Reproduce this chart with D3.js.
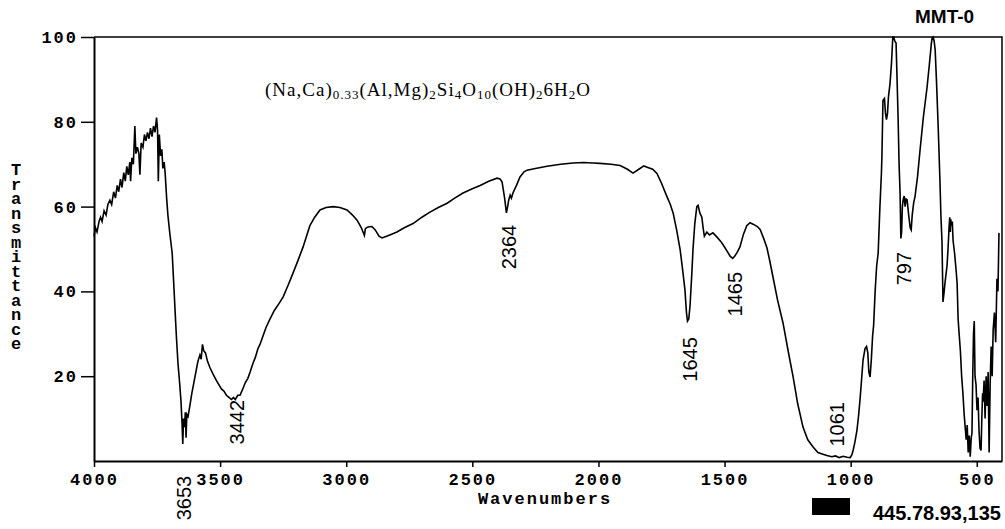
<!DOCTYPE html>
<html>
<head>
<meta charset="utf-8">
<script src="https://cdn.jsdelivr.net/npm/d3@7"></script>
<style>
    body { margin: 0; background: #fff; }
    .tick-label text, .mono { font-family: "Liberation Mono", "DejaVu Sans Mono", monospace; font-weight: bold; font-size: 17px; letter-spacing: 2px; fill: #000; }
    .peak { font-family: "Liberation Sans", Arial, sans-serif; font-size: 20px; fill: #000; }
</style>
</head>
<body>
<svg id="chart"></svg>
<script>
// Spectrum: [wavenumber, %T]
const spectrum = [
    [4000,53.0],[3994,55.0],[3988,54.0],[3980,56.5],[3974,57.5],[3968,56.5],[3960,59.0],[3952,58.0],
    [3945,60.5],[3937,61.5],[3930,60.5],[3922,63.5],[3915,62.0],[3908,65.0],[3902,63.5],[3895,66.5],
    [3889,64.5],[3882,68.0],[3876,66.0],[3870,69.5],[3864,67.5],[3858,70.5],[3855,66.0],[3850,71.5],
    [3844,70.0],[3838,79.0],[3834,72.5],[3828,74.0],[3822,72.5],[3818,67.5],[3813,75.0],[3806,74.0],
    [3800,77.0],[3794,75.5],[3788,77.5],[3782,76.0],[3776,78.5],[3770,76.5],[3764,79.0],[3758,77.5],
    [3752,81.0],[3748,78.0],[3745,66.0],[3741,77.0],[3736,72.0],[3731,73.5],[3727,69.0],[3722,70.5],
    [3718,68.0],[3712,62.0],[3707,58.0],[3700,54.0],[3690,49.0],[3684,42.0],[3679,36.0],[3673,29.0],
    [3667,23.0],[3660,18.0],[3655,14.0],[3651,9.0],[3648,4.0],[3645,10.0],[3641,8.0],[3638,11.5],
    [3635,5.5],[3632,11.0],[3627,10.5],[3620,13.0],[3612,16.0],[3604,18.5],[3596,21.0],[3588,23.5],
    [3580,25.0],[3575,24.0],[3570,27.5],[3565,26.0],[3558,25.5],[3550,23.5],[3540,22.0],[3528,20.5],
    [3515,19.0],[3505,18.0],[3495,17.0],[3485,16.5],[3475,15.5],[3465,15.0],[3455,14.5],[3447,15.0],
    [3440,14.5],[3430,15.5],[3421,15.5],[3410,17.0],[3400,18.5],[3390,19.5],[3381,21.0],[3370,23.0],
    [3360,24.5],[3350,26.5],[3342,27.5],[3330,29.5],[3318,31.5],[3302,33.5],[3285,35.5],[3268,37.0],
    [3250,38.7],[3230,41.5],[3211,44.3],[3190,47.5],[3171,50.5],[3155,53.5],[3144,55.5],[3125,57.5],
    [3104,59.2],[3080,59.8],[3052,60.0],[3025,59.8],[2997,59.2],[2975,58.0],[2957,56.8],[2940,55.0],
    [2928,53.2],[2924,54.8],[2914,55.2],[2898,55.3],[2885,54.5],[2870,53.0],[2858,52.6],[2840,53.0],
    [2820,53.5],[2799,54.0],[2770,55.0],[2735,56.0],[2700,57.5],[2668,58.7],[2635,59.8],[2600,60.8],
    [2570,62.0],[2537,63.2],[2500,64.2],[2469,65.0],[2435,66.0],[2402,66.7],[2390,66.5],[2382,65.8],
    [2372,62.0],[2365,58.5],[2360,60.0],[2356,61.5],[2350,62.7],[2345,62.0],[2339,63.2],[2325,65.0],
    [2311,67.0],[2295,68.2],[2283,68.6],[2250,69.0],[2204,69.5],[2150,70.0],[2101,70.3],[2060,70.4],
    [2022,70.3],[1994,70.2],[1950,70.0],[1914,69.7],[1885,68.8],[1863,67.9],[1840,68.8],[1820,69.6],
    [1807,69.3],[1785,68.8],[1768,67.8],[1750,65.5],[1728,62.3],[1715,60.5],[1704,58.5],[1690,54.5],
    [1676,49.8],[1665,44.5],[1657,40.3],[1651,35.0],[1647,33.0],[1642,33.5],[1637,36.5],[1630,44.0],
    [1625,50.0],[1618,56.0],[1610,60.0],[1605,60.3],[1598,58.5],[1590,57.5],[1585,55.0],[1580,53.0],
    [1570,54.0],[1560,53.3],[1546,53.8],[1530,52.8],[1515,51.8],[1506,51.0],[1490,49.5],[1478,48.3],
    [1468,47.8],[1460,48.3],[1450,49.2],[1439,50.5],[1425,53.5],[1412,55.5],[1399,56.2],[1385,55.8],
    [1370,55.3],[1359,54.6],[1345,52.5],[1332,50.3],[1320,47.0],[1308,43.4],[1290,38.0],[1268,32.5],
    [1248,26.0],[1228,19.8],[1210,13.5],[1189,8.0],[1170,5.0],[1149,3.3],[1130,2.0],[1110,1.6],
    [1094,1.3],[1075,1.0],[1060,1.2],[1045,0.8],[1030,1.1],[1014,0.9],[1002,0.8],[995,1.5],
    [990,2.6],[983,4.5],[975,7.3],[969,10.5],[963,14.4],[957,19.0],[951,23.8],[943,26.5],
    [937,27.0],[932,25.5],[928,21.0],[923,19.8],[918,24.0],[913,29.5],[909,32.0],[903,40.0],
    [897,46.0],[891,49.0],[884,60.0],[878,68.0],[876,72.0],[872,85.0],[866,85.5],[862,82.0],
    [858,80.5],[854,82.0],[850,86.0],[844,89.0],[838,94.0],[833,100.0],[829,100.0],[825,99.0],
    [820,98.6],[816,90.0],[812,81.0],[808,70.0],[804,63.0],[801,52.5],[798,54.0],[795,60.0],
    [792,61.6],[788,62.5],[784,60.0],[780,61.8],[776,61.6],[770,58.0],[764,55.0],[760,54.5],
    [756,58.0],[750,61.0],[745,62.3],[735,67.0],[725,73.3],[712,81.0],[697,88.2],[688,93.5],
    [680,98.5],[677,99.8],[673,100.0],[669,99.0],[665,97.0],[660,90.0],[653,78.8],[646,66.0],
    [642,57.5],[638,52.0],[634,37.5],[630,39.6],[626,42.0],[622,44.0],[618,46.0],[614,50.0],
    [610,55.0],[607,57.5],[605,54.0],[603,57.0],[600,55.5],[597,56.5],[594,52.0],[588,49.0],
    [582,45.0],[578,42.0],[574,33.5],[570,30.0],[565,26.0],[560,20.0],[555,16.0],[550,11.0],
    [546,8.0],[542,5.0],[538,8.5],[534,2.0],[530,6.0],[526,1.0],[522,5.5],[519,6.6],
    [516,20.0],[513,30.0],[510,33.0],[507,20.0],[503,18.0],[499,12.0],[495,15.0],[491,7.0],
    [487,3.0],[483,2.5],[480,10.0],[477,16.0],[475,14.0],[471,19.0],[467,10.0],[463,20.0],
    [459,13.0],[455,21.0],[451,2.0],[447,18.0],[443,27.0],[439,20.0],[435,31.0],[430,35.0],
    [425,28.0],[420,43.0],[416,40.0],[412,53.8]
];

// Axis ticks
const xTicks = [4000, 3500, 3000, 2500, 2000, 1500, 1000, 500];
const yTicks = [20, 40, 60, 80, 100];

// Peak labels: wavenumber and where the top of the label sits (in %T)
const peakNames = ["3653", "3442", "2364", "1645", "1465", "1061", "797"];
const peakWn = [3653, 3442, 2364, 1645, 1465, 1061, 797];
const peakLabelT = [-3.5, 14.4, 55.7, 29.2, 44.6, 13.9, 49.3];

// Formula pieces: [text, isSubscript]
const formula = [
    ["(Na,Ca)", false], ["0.33", true], ["(Al,Mg)", false], ["2", true], ["Si", false], ["4", true],
    ["O", false], ["10", true], ["(OH)", false], ["2", true], ["6H", false], ["2", true], ["O", false]
];

const width = 1005;
const height = 529;
const margin = { top: 37, right: 3, bottom: 68, left: 94 };

const svg = d3.select("#chart")
    .attr("width", width)
    .attr("height", height);

svg.append("rect").attr("width", width).attr("height", height).attr("fill", "#fff");

const xScale = d3.scaleLinear()
    .domain([4000, 400])
    .range([margin.left, width - margin.right]);

const yScale = d3.scaleLinear()
    .domain([0, 100])
    .range([height - margin.bottom, margin.top]);

// Frame (top and right edges)
svg.append("path")
    .attr("d", `M${xScale(4000)},${yScale(100)}H${xScale(400)}V${yScale(0)}`)
    .attr("fill", "none")
    .attr("stroke", "#000")
    .attr("stroke-width", 1.5);

// Spectrum line
const line = d3.line()
    .x(d => xScale(d[0]))
    .y(d => yScale(d[1]));

svg.append("path")
    .datum(spectrum)
    .attr("fill", "none")
    .attr("stroke", "#000")
    .attr("stroke-width", 1.6)
    .attr("d", line);

// Axes
svg.append("g")
    .attr("class", "tick-label")
    .attr("transform", `translate(0, ${yScale(0)})`)
    .call(d3.axisBottom(xScale).tickValues(xTicks).tickSize(6).tickSizeOuter(0).tickPadding(6).tickFormat(d3.format("d")));

svg.append("g")
    .attr("class", "tick-label")
    .attr("transform", `translate(${xScale(4000)}, 0)`)
    .call(d3.axisLeft(yScale).tickValues(yTicks).tickSize(13).tickSizeOuter(0).tickPadding(3));

svg.selectAll(".tick-label path, .tick-label line")
    .attr("stroke", "#000")
    .attr("stroke-width", 1.5);
svg.selectAll(".tick-label text").attr("font-family", null).attr("font-size", null);
svg.selectAll(".tick-label .domain").attr("stroke-width", 2);

// Axis titles
svg.append("text")
    .attr("class", "mono")
    .attr("x", 545)
    .attr("y", 504)
    .attr("text-anchor", "middle")
    .text("Wavenumbers");

// Stacked vertical title, one text with upright glyphs
svg.append("text")
    .attr("class", "mono")
    .attr("x", 16)
    .attr("y", 161)
    .style("writing-mode", "vertical-rl")
    .style("text-orientation", "upright")
    .style("letter-spacing", "-4.5px")
    .text("Transmittance");

// Peak labels
svg.selectAll(".peak")
    .data(peakNames)
    .enter()
    .append("text")
    .attr("class", "peak")
    .attr("transform", (d, i) => `translate(${xScale(peakWn[i]) + 2}, ${yScale(peakLabelT[i])}) rotate(-90)`)
    .attr("text-anchor", "end")
    .attr("dominant-baseline", "central")
    .text(d => d);

// Formula
const formulaText = svg.append("text")
    .attr("x", 265)
    .attr("y", 96)
    .attr("textLength", 325)
    .attr("lengthAdjust", "spacing")
    .style("font-family", "'Liberation Serif', 'Times New Roman', serif")
    .style("font-size", "19px")
    .style("fill", "#000");

formula.forEach(([t, sub]) => {
    formulaText.append("tspan")
        .style("font-size", sub ? "13px" : "19px")
        .attr("baseline-shift", sub ? "-3px" : null)
        .text(t);
});

// Sample name
svg.append("text")
    .attr("x", 915)
    .attr("y", 23)
    .style("font-family", "'Liberation Sans', Arial, sans-serif")
    .style("font-weight", "bold")
    .style("font-size", "19px")
    .text("MMT-0");

// Swatch and text at bottom right
svg.append("rect")
    .attr("x", 812)
    .attr("y", 498)
    .attr("width", 38)
    .attr("height", 17)
    .attr("fill", "#000");

svg.append("text")
    .attr("x", 873)
    .attr("y", 520)
    .style("font-family", "'Liberation Sans', Arial, sans-serif")
    .style("font-weight", "bold")
    .style("font-size", "20px")
    .text("445.78.93,135");
</script>
</body>
</html>
